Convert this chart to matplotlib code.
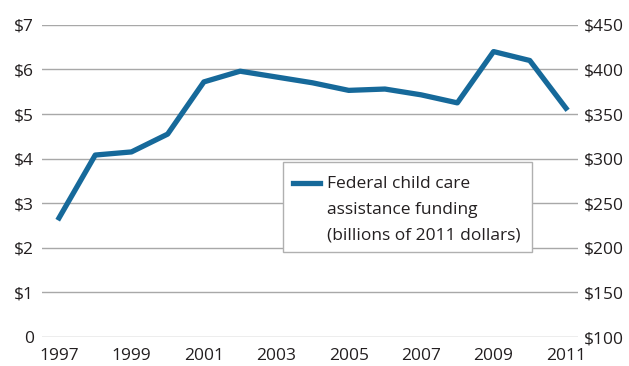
import matplotlib
matplotlib.use('Agg')
import matplotlib.pyplot as plt
from matplotlib.patches import Rectangle

plt.rcParams['font.family'] = ['Open Sans', 'DejaVu Sans']

years = list(range(1997, 2012))
funding = [2.67, 4.08, 4.15, 4.55, 5.72, 5.96, 5.83, 5.70, 5.53, 5.56,
           5.43, 5.25, 6.40, 6.20, 5.13]
left_ticks = [0, 1, 2, 3, 4, 5, 6, 7]
left_labels = ['0', '$1', '$2', '$3', '$4', '$5', '$6', '$7']
right_labels = ['$100', '$150', '$200', '$250', '$300', '$350', '$400', '$450']
xticks = [1997, 1999, 2001, 2003, 2005, 2007, 2009, 2011]
series_label = 'Federal child care\nassistance funding\n(billions of 2011 dollars)'

line_color = '#16699a'
text_color = '#231f20'

fig = plt.figure(figsize=(6.29, 3.66), dpi=100)
ax = fig.add_axes([0.0668, 0.0792, 0.852, 0.853])

ax.plot(years, funding, color=line_color, lw=3.8, zorder=3)

ax.set_ylim(0, 7)
ax.set_xlim(1996.53, 2011.33)
ax.set_yticks(left_ticks)
ax.set_yticklabels(left_labels)
ax.set_xticks(xticks)
ax.grid(axis='y', color='#a8a8a8', lw=1)
ax.set_axisbelow(True)
for s in ax.spines.values():
    s.set_visible(False)
ax.tick_params(length=0, labelsize=12.5, colors=text_color, pad=6)
ax.tick_params(axis='x', pad=8)

ax2 = ax.twinx()
ax2.set_ylim(0, 7)
ax2.set_yticks(left_ticks)
ax2.set_yticklabels(right_labels)
for s in ax2.spines.values():
    s.set_visible(False)
ax2.tick_params(length=0, labelsize=12.5, colors=text_color, pad=4)

# legend box drawn by hand so the key sits next to the first line
ax.add_patch(Rectangle((0.45, 0.272), 0.464, 0.289, transform=ax.transAxes,
                       facecolor='white', edgecolor='#b0b0b0', lw=1, zorder=5))
ax.plot([0.468, 0.519], [0.494, 0.494], transform=ax.transAxes,
        color=line_color, lw=3.8, zorder=6)
ax.text(0.532, 0.515, series_label, transform=ax.transAxes, fontsize=12.5,
        color=text_color, va='top', ha='left', linespacing=1.8, zorder=6)

fig.savefig('out.png', dpi=100)
